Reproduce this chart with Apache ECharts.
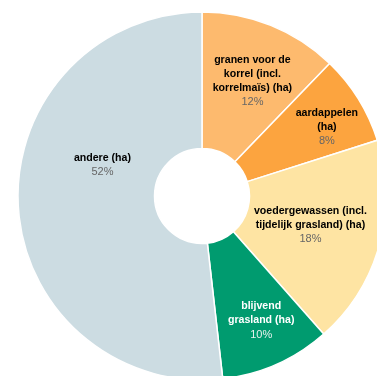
<!DOCTYPE html>
<html>
<head>
<meta charset="utf-8">
<script src="https://cdn.jsdelivr.net/npm/echarts@6/dist/echarts.min.js"></script>
<style>html,body{margin:0;padding:0;background:#fff;}#c{width:377px;height:376px;}</style>
</head>
<body>
<div id="c"></div>
<script>
var categories = [
  'granen voor de\nkorrel (incl.\nkorrelmaïs) (ha)',
  'aardappelen\n(ha)',
  'voedergewassen (incl.\ntijdelijk grasland) (ha)',
  'blijvend\ngrasland (ha)',
  'andere (ha)'
];
var shares = [12.2, 7.9, 18.4, 9.7, 51.8];
var colors = ['#fdba6e', '#fca43f', '#fee4a3', '#009b6f', '#ccdce2'];
var labelShift = [[6, -5], [24, -6], [-6, -3], [11, 16], [19, -38]];

var chart = echarts.init(document.getElementById('c'), null, {renderer: 'canvas'});
var data = categories.map(function (n, i) {
  var dark = colors[i] === '#009b6f';
  return {
    name: n,
    value: shares[i],
    itemStyle: {color: colors[i]},
    label: {
      rich: {
        n: {fontFamily: 'Liberation Sans, Arial, sans-serif', fontWeight: 'bold', fontSize: 10.6, lineHeight: 14, color: dark ? '#ffffff' : '#000000', align: 'center'},
        p: {fontFamily: 'Liberation Sans, Arial, sans-serif', fontSize: 11, lineHeight: 14, color: dark ? '#e8f2ee' : '#666666', align: 'center'}
      }
    }
  };
});
chart.setOption({
  animation: false,
  series: [{
    type: 'pie',
    center: [202, 196],
    radius: [47.5, 184],
    startAngle: 90,
    clockwise: true,
    avoidLabelOverlap: false,
    itemStyle: {borderColor: '#ffffff', borderWidth: 1.5},
    label: {
      show: true,
      position: 'inside',
      formatter: function (p) {
        return '{n|' + p.name + '}\n{p|' + Math.round(p.percent) + '%}';
      }
    },
    labelLine: {show: false},
    labelLayout: function (p) {
      var s = labelShift[p.dataIndex];
      return {dx: s[0], dy: s[1]};
    },
    emphasis: {disabled: true},
    data: data
  }]
});
</script>
</body>
</html>
